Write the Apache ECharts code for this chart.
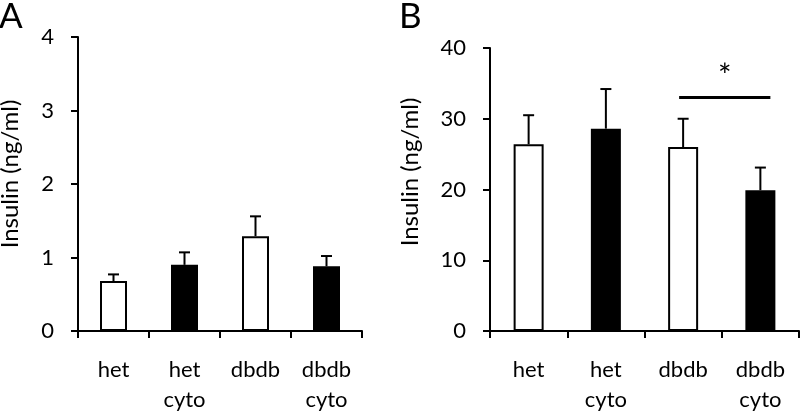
<!DOCTYPE html>
<html>
<head>
<meta charset="utf-8">
<script src="https://cdn.jsdelivr.net/npm/echarts@6/dist/echarts.min.js"></script>
<style>
html,body{margin:0;padding:0;background:#fff;}
#chart{width:800px;height:412px;}
</style>
</head>
<body>
<div id="chart"></div>
<script>
// ---- data ----
const categories = ['het', 'het\ncyto', 'dbdb', 'dbdb\ncyto'];
const insulinA = [0.68, 0.90, 1.29, 0.88];
const errorA = [0.09, 0.17, 0.27, 0.14];
const insulinB = [26.4, 28.6, 26.0, 19.9];
const errorB = [4.1, 5.6, 4.0, 3.2];
const yTicksA = [0, 1, 2, 3, 4];
const yTicksB = [0, 10, 20, 30, 40];
const yTitle = 'Insulin (ng/ml)';
const panelLabels = ['A', 'B'];
const sigPair = [2, 3];     // dbdb vs dbdb cyto
const sigLevel = 33;
const sigMark = '*';

// ---- chart ----
const FONT = 'Lato, "Open Sans", sans-serif';
const chart = echarts.init(document.getElementById('chart'), null, {renderer: 'canvas'});

function fillFor(name) { return name.indexOf('cyto') >= 0 ? '#000' : '#fff'; }

function xAxis(gi) {
  return {
    type: 'category', gridIndex: gi, data: categories,
    axisLine: {lineStyle: {color: '#000', width: 2}},
    axisTick: {show: true, length: 7, lineStyle: {color: '#000', width: 2}},
    axisLabel: {color: '#000', fontSize: 22, fontFamily: FONT, lineHeight: 30, margin: 24, interval: 0}
  };
}
function yAxis(gi, ticks, gap, pad) {
  return {
    type: 'value', gridIndex: gi,
    min: ticks[0], max: ticks[ticks.length - 1], interval: ticks[1] - ticks[0],
    name: yTitle, nameLocation: 'middle', nameGap: gap,
    nameTextStyle: {color: '#000', fontSize: 24, fontFamily: FONT, padding: [0, 0, 0, pad]},
    axisLine: {show: true, lineStyle: {color: '#000', width: 2}},
    axisTick: {show: true, length: 7, lineStyle: {color: '#000', width: 2}},
    axisLabel: {color: '#000', fontSize: 22, fontFamily: FONT, margin: 24},
    splitLine: {show: false}
  };
}
function barSeries(gi, values, bw) {
  return {
    type: 'bar', xAxisIndex: gi, yAxisIndex: gi, barWidth: bw,
    data: values, z: 2,
    itemStyle: {color: p => fillFor(p.name), borderColor: '#000', borderWidth: 2},
    silent: true
  };
}
function errSeries(gi, values, errs) {
  return {
    type: 'custom', xAxisIndex: gi, yAxisIndex: gi, z: 1,
    data: values.map((v, i) => [i, v, v + errs[i]]),
    renderItem: function (params, api) {
      const p0 = api.coord([api.value(0), api.value(1)]);
      const p1 = api.coord([api.value(0), api.value(2)]);
      const hw = 5.5;
      return {
        type: 'group',
        children: [
          {type: 'line', shape: {x1: p0[0], y1: p0[1], x2: p1[0], y2: p1[1]}, style: {stroke: '#000', lineWidth: 2}},
          {type: 'line', shape: {x1: p1[0] - hw, y1: p1[1], x2: p1[0] + hw, y2: p1[1]}, style: {stroke: '#000', lineWidth: 2}}
        ]
      };
    },
    silent: true
  };
}

const option = {
  animation: false,
  backgroundColor: '#fff',
  grid: [
    {left: 78, right: 438, top: 37, bottom: 81, containLabel: false, outerBoundsMode: 'none'},
    {left: 490, right: 1, top: 48, bottom: 81, containLabel: false, outerBoundsMode: 'none'}
  ],
  xAxis: [xAxis(0), xAxis(1)],
  yAxis: [yAxis(0, yTicksA, 56, 20), yAxis(1, yTicksB, 68, 35)],
  graphic: [
    {type: 'text', left: -1, top: -1, style: {text: panelLabels[0], fontSize: 35, fontFamily: FONT, fill: '#000'}},
    {type: 'text', left: 399, top: -1, style: {text: panelLabels[1], fontSize: 35, fontFamily: FONT, fill: '#000'}}
  ],
  series: [
    barSeries(0, insulinA, 27),
    errSeries(0, insulinA, errorA),
    barSeries(1, insulinB, 30),
    errSeries(1, insulinB, errorB),
    {
      type: 'custom', xAxisIndex: 1, yAxisIndex: 1, z: 3,
      data: [[sigPair[0], sigPair[1], sigLevel]],
      renderItem: function (params, api) {
        const a = api.coord([api.value(0), api.value(2)]);
        const b = api.coord([api.value(1), api.value(2)]);
        const x1 = a[0] - 4, x2 = b[0] + 10;
        return {
          type: 'group',
          children: [
            {type: 'line', shape: {x1: x1, y1: a[1], x2: x2, y2: a[1]}, style: {stroke: '#000', lineWidth: 3}},
            {type: 'text', x: (x1 + x2) / 2, y: a[1] - 21,
              style: {text: sigMark, fontSize: 32, fontFamily: FONT, fill: '#000', align: 'center', verticalAlign: 'middle'}}
          ]
        };
      },
      silent: true
    }
  ]
};
chart.setOption(option);
</script>
</body>
</html>
